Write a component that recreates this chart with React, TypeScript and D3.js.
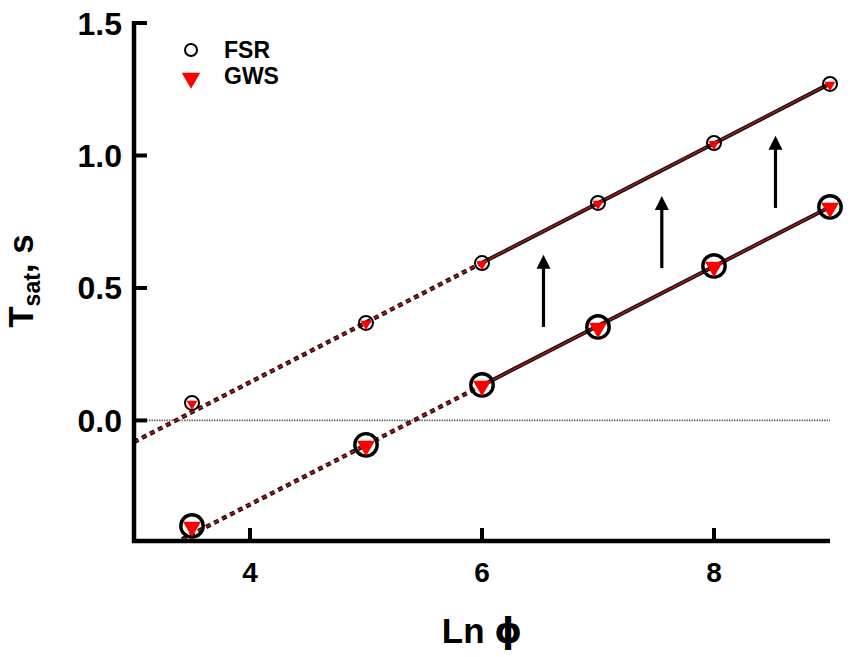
import React from 'react';
import * as d3 from 'd3';

// Data
const lnPhi = [3.5, 5, 6, 7, 8, 9];
// upper set (small markers)
const fsrUpper = [0.066, 0.368, 0.594, 0.821, 1.047, 1.27];
const gwsUpper = [0.066, 0.368, 0.594, 0.821, 1.047, 1.27];
// lower set (large markers)
const fsrLower = [-0.398, -0.092, 0.134, 0.353, 0.583, 0.806];
const gwsLower = [-0.398, -0.092, 0.134, 0.353, 0.583, 0.806];

const fitFrom = 6; // solid fit over x >= 6, dotted extrapolation below
const xDomain = [3, 9];
const yDomain = [-0.455, 1.5];
const xTicks = [4, 6, 8];
const yTicks = [0, 0.5, 1.0, 1.5];

const arrowX = [6.53, 7.55, 8.53];
const arrowFrom = [0.353, 0.575, 0.802];
const arrowTo = [0.625, 0.847, 1.074];

const FONT = '"Liberation Sans", Arial, Helvetica, sans-serif';

function linFit(xs: number[], ys: number[]) {
  const px: number[] = [];
  const py: number[] = [];
  xs.forEach((x, i) => {
    if (x >= fitFrom) {
      px.push(x);
      py.push(ys[i]);
    }
  });
  const mx = d3.mean(px) as number;
  const my = d3.mean(py) as number;
  let sxy = 0;
  let sxx = 0;
  px.forEach((x, i) => {
    sxy += (x - mx) * (py[i] - my);
    sxx += (x - mx) * (x - mx);
  });
  const b = sxy / sxx;
  const a = my - b * mx;
  return (x: number) => a + b * x;
}

export default function App() {
  const W = 851;
  const H = 657;
  const x = d3.scaleLinear().domain(xDomain).range([134, 830]);
  const y = d3.scaleLinear().domain(yDomain).range([541, 23]);

  const seg = (f: (v: number) => number, x0: number, x1: number) =>
    d3.line<[number, number]>().x((d) => x(d[0])).y((d) => y(d[1]))([
      [x0, f(x0)],
      [x1, f(x1)],
    ]) as string;

  const fitU = linFit(lnPhi, fsrUpper);
  const fitL = linFit(lnPhi, fsrLower);

  const tri = (size: number) =>
    d3.symbol().type(d3.symbolTriangle).size(size)() as string;

  const renderFit = (f: (v: number) => number, key: string) => (
    <g key={key} clipPath="url(#plotclip)">
      <path d={seg(f, xDomain[0], fitFrom)} stroke="#2a0808" strokeWidth={4.4} strokeDasharray="5 4" fill="none" />
      <path d={seg(f, xDomain[0], fitFrom)} stroke="#b02020" strokeWidth={1.4} strokeDasharray="5 4" fill="none" />
      <path d={seg(f, fitFrom, xDomain[1])} stroke="#111" strokeWidth={4} fill="none" />
      <path d={seg(f, fitFrom, xDomain[1])} stroke="#a01818" strokeWidth={1.6} fill="none" />
    </g>
  );

  return (
    <svg width={W} height={H} style={{ position: 'absolute', left: 0, top: 0, background: '#fff' }}>
      <defs>
        <clipPath id="plotclip">
          <rect x={134} y={20} width={700} height={521} />
        </clipPath>
      </defs>
      <rect x={0} y={0} width={W} height={H} fill="#fff" />

      {/* zero line */}
      <line x1={x(3)} x2={x(9)} y1={y(0)} y2={y(0)} stroke="#666" strokeWidth={1.8} strokeDasharray="1.5 1" />

      {/* fits */}
      {renderFit(fitU, 'u')}
      {renderFit(fitL, 'l')}

      {/* arrows */}
      {arrowX.map((ax, i) => {
        const cx = x(ax);
        const y0 = y(arrowFrom[i]);
        const y1 = y(arrowTo[i]);
        return (
          <g key={'a' + i}>
            <line x1={cx} x2={cx} y1={y0} y2={y1 + 12} stroke="#000" strokeWidth={3.2} />
            <path d={`M${cx},${y1} L${cx - 7},${y1 + 14} L${cx + 7},${y1 + 14} Z`} fill="#000" />
          </g>
        );
      })}

      {/* markers upper: FSR circles + GWS triangles */}
      {lnPhi.map((v, i) => (
        <circle key={'fu' + i} cx={x(v)} cy={y(fsrUpper[i])} r={7} fill="none" stroke="#000" strokeWidth={2} />
      ))}
      {lnPhi.map((v, i) => (
        <path key={'gu' + i} d={tri(50)} transform={`translate(${x(v)},${y(gwsUpper[i]) + 1}) rotate(180)`} fill="#f00" />
      ))}
      {/* markers lower */}
      {lnPhi.map((v, i) => (
        <circle key={'fl' + i} cx={x(v)} cy={y(fsrLower[i])} r={11.2} fill="none" stroke="#000" strokeWidth={3.4} />
      ))}
      {lnPhi.map((v, i) => (
        <path key={'gl' + i} d={tri(140)} transform={`translate(${x(v)},${y(gwsLower[i]) + 1}) rotate(180)`} fill="#f00" />
      ))}

      {/* axes */}
      <line x1={134} x2={134} y1={21} y2={543} stroke="#000" strokeWidth={4.5} />
      <line x1={132} x2={830} y1={541} y2={541} stroke="#000" strokeWidth={4.5} />
      {yTicks.map((t) => (
        <g key={'yt' + t}>
          <line x1={134} x2={147} y1={y(t)} y2={y(t)} stroke="#000" strokeWidth={4} />
          <text x={122} y={y(t)} dy="0.36em" textAnchor="end" fontFamily={FONT} fontWeight="bold" fontSize={32} fill="#000">
            {d3.format('.1f')(t)}
          </text>
        </g>
      ))}
      {xTicks.map((t) => (
        <g key={'xt' + t}>
          <line x1={x(t)} x2={x(t)} y1={541} y2={528} stroke="#000" strokeWidth={4} />
          <text x={x(t)} y={582} textAnchor="middle" fontFamily={FONT} fontWeight="bold" fontSize={28} fill="#000">
            {t}
          </text>
        </g>
      ))}

      {/* axis titles */}
      <text x={482} y={643} textAnchor="middle" fontFamily={FONT} fontWeight="bold" fontSize={35} fill="#000">
        Ln <tspan fontFamily='"DejaVu Sans", sans-serif'>ϕ</tspan>
      </text>
      <text transform="translate(33,281) rotate(-90)" textAnchor="middle" fontFamily={FONT} fontWeight="bold" fontSize={35} fill="#000">
        T<tspan fontSize={23} dy={7}>sat</tspan>
        <tspan dy={-7}>, s</tspan>
      </text>

      {/* legend */}
      <circle cx={191} cy={50} r={6} fill="none" stroke="#000" strokeWidth={2} />
      <text x={224} y={58} fontFamily={FONT} fontWeight="bold" fontSize={23} fill="#000">FSR</text>
      <path d={tri(150)} transform="translate(191,78) rotate(180)" fill="#f00" />
      <text x={224} y={84} fontFamily={FONT} fontWeight="bold" fontSize={23} fill="#000">GWS</text>
    </svg>
  );
}
